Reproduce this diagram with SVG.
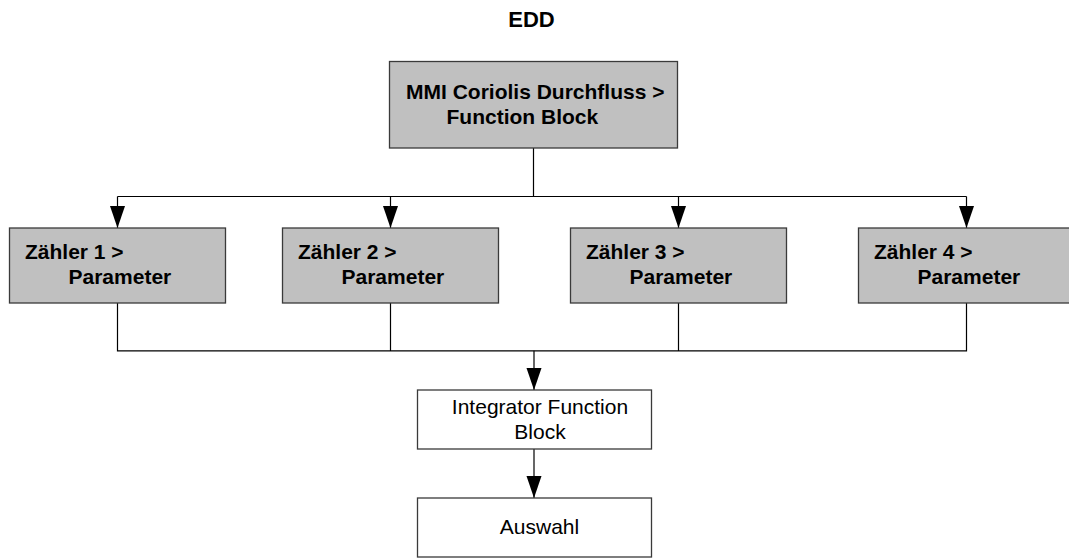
<svg xmlns="http://www.w3.org/2000/svg" width="1069" height="558" viewBox="0 0 1069 558">
<style>
.gray{fill:#c0c0c0;stroke:#3a3a3a;stroke-width:1.3}
.white{fill:#ffffff;stroke:#3a3a3a;stroke-width:1.3}
.b{font-family:"Liberation Sans",Arial,sans-serif;font-weight:bold;font-size:21px;fill:#000}
.r{font-family:"Liberation Sans",Arial,sans-serif;font-size:21px;fill:#000}
.ln{fill:none;stroke:#000;stroke-width:1.2}
</style>
<defs>
<marker id="ah" viewBox="0 0 22 16" refX="22" refY="8" markerWidth="22" markerHeight="16" markerUnits="userSpaceOnUse" orient="auto">
<path d="M0,0.5 L22,8 L0,15.5 z" fill="#000"/>
</marker>
</defs>
<rect width="1069" height="558" fill="#fff"/>
<text x="531.5" y="26.5" text-anchor="middle" class="b" style="font-size:22px">EDD</text>
<g id="connectors">
<path class="ln" d="M533.5,148 V196.5 M117.5,196.5 H966.5"/>
<path class="ln" d="M117.5,196.5 V228" marker-end="url(#ah)"/>
<path class="ln" d="M390.5,196.5 V228" marker-end="url(#ah)"/>
<path class="ln" d="M678.5,196.5 V228" marker-end="url(#ah)"/>
<path class="ln" d="M966.5,196.5 V228" marker-end="url(#ah)"/>
<path class="ln" d="M117.5,303 V350.8 H966.5 V303 M390.5,303 V350.8 M678.5,303 V350.8"/>
<path class="ln" d="M534,350.8 V390" marker-end="url(#ah)"/>
<path class="ln" d="M534,449 V498" marker-end="url(#ah)"/>
</g>
<g id="mmi">
<rect class="gray" x="389.5" y="61.5" width="288" height="86.5"/>
<text class="b" x="406" y="98.5">MMI Coriolis Durchfluss &gt;</text>
<text class="b" x="446.5" y="124">Function Block</text>
</g>
<g id="z1">
<rect class="gray" x="9.5" y="228" width="216" height="75"/>
<text class="b" x="25" y="259">Zähler 1 &gt;</text>
<text class="b" x="68.5" y="284">Parameter</text>
</g>
<g id="z2">
<rect class="gray" x="282.5" y="228" width="216" height="75"/>
<text class="b" x="298" y="259">Zähler 2 &gt;</text>
<text class="b" x="341.5" y="284">Parameter</text>
</g>
<g id="z3">
<rect class="gray" x="570.5" y="228" width="216" height="75"/>
<text class="b" x="586" y="259">Zähler 3 &gt;</text>
<text class="b" x="629.5" y="284">Parameter</text>
</g>
<g id="z4">
<rect class="gray" x="858.5" y="228" width="216" height="75"/>
<text class="b" x="874" y="259">Zähler 4 &gt;</text>
<text class="b" x="917.5" y="284">Parameter</text>
</g>
<g id="integrator">
<rect class="white" x="417.5" y="390" width="234" height="59"/>
<text class="r" x="540" y="413.5" text-anchor="middle">Integrator Function</text>
<text class="r" x="540" y="438.5" text-anchor="middle">Block</text>
</g>
<g id="auswahl">
<rect class="white" x="417.5" y="498" width="234" height="59"/>
<text class="r" x="539.5" y="534" text-anchor="middle">Auswahl</text>
</g>
</svg>
